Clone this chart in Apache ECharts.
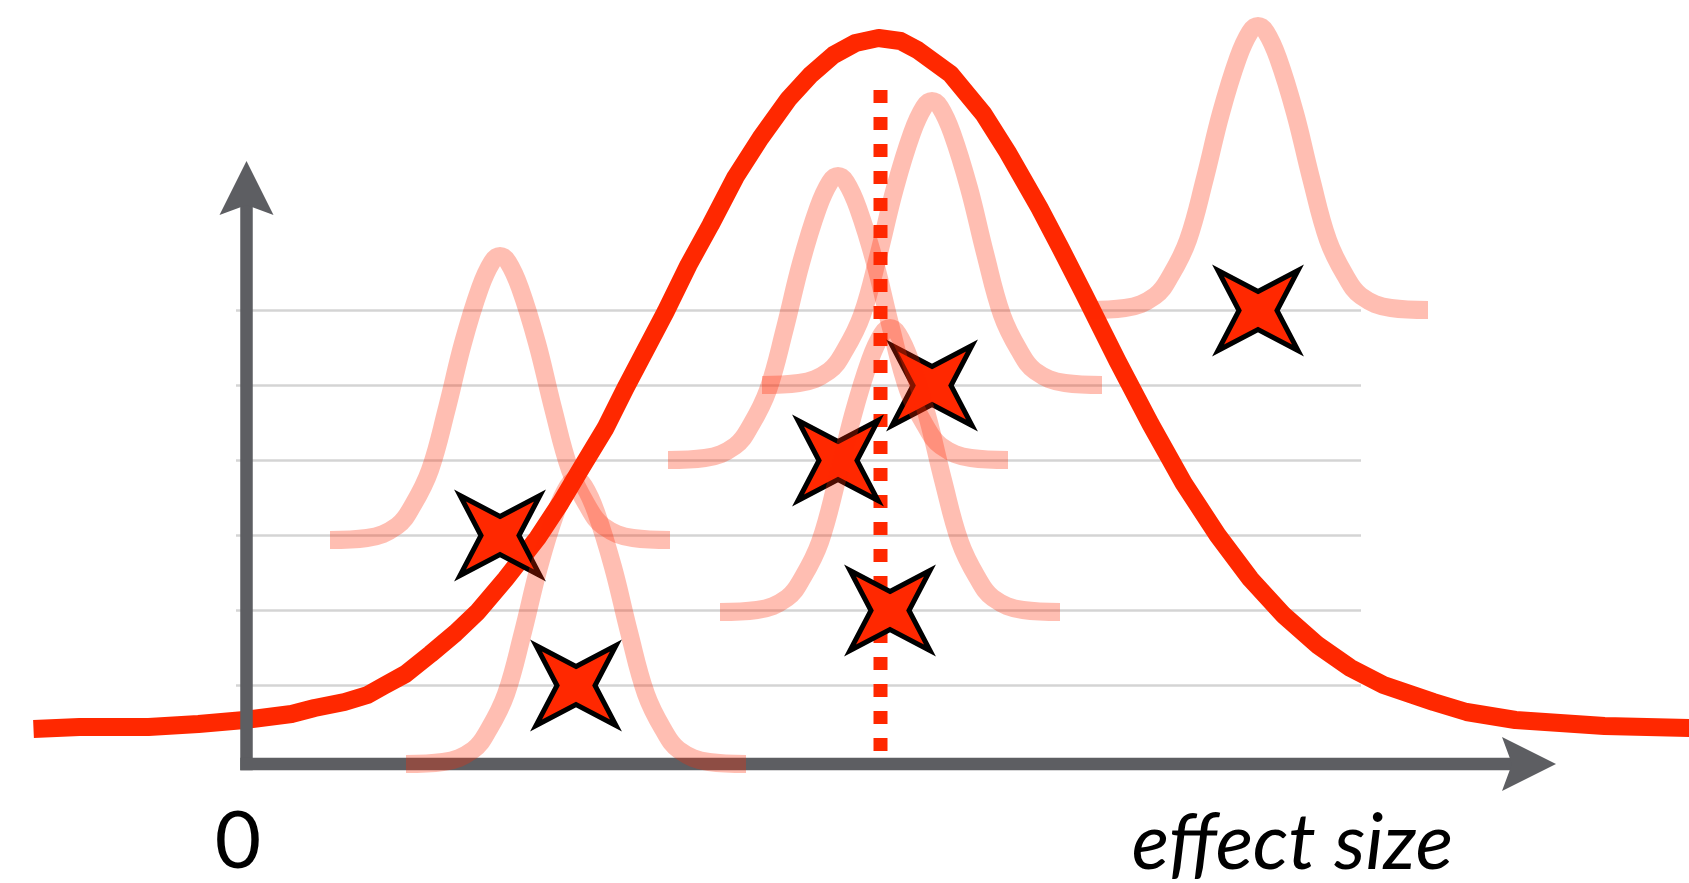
<!DOCTYPE html>
<html><head><meta charset="utf-8">
<script src="https://cdn.jsdelivr.net/npm/echarts@6/dist/echarts.min.js"></script>
<style>html,body{margin:0;padding:0;background:#fff;} #chart{width:1689px;height:883px;}</style>
</head><body><div id="chart"></div>
<script>
// ---- data (effect-size units on x, density units on y) ----
// pooled / overall distribution (big red curve)
const pooledX = [-2.13,-1.67,-0.98,-0.48,-0.02,0.45,0.68,0.98,1.21,1.37,1.59,1.84,2.09,2.31,2.59,2.91,3.14,3.36,3.59,3.79,3.99,4.19,4.42,4.64,4.89,5.14,5.42,5.64,5.87,6.09,6.32,6.54,6.71,7.04,7.37,7.61,7.93,8.14,8.37,8.71,9.04,9.37,9.71,10.04,10.37,10.71,11.04,11.37,11.87,12.2,12.69,13.58,14.43];
const pooledY = [0.35,0.37,0.37,0.40,0.44,0.50,0.56,0.62,0.69,0.78,0.90,1.10,1.31,1.52,1.85,2.26,2.61,2.98,3.36,3.76,4.14,4.52,4.99,5.39,5.87,6.26,6.65,6.89,7.09,7.21,7.26,7.23,7.14,6.90,6.50,6.12,5.56,5.16,4.71,4.03,3.40,2.81,2.29,1.85,1.49,1.19,0.96,0.79,0.62,0.52,0.44,0.38,0.36];
// shared shape of each study's curve (offset from its centre, height above its baseline)
const profileDx = [-1.70,-1.33,-1.03,-0.87,-0.70,-0.53,-0.37,-0.20,-0.08,0,0.08,0.20,0.37,0.53,0.70,0.87,1.03,1.33,1.70];
const profileH  = [0,0.02,0.14,0.35,0.70,1.32,1.97,2.52,2.78,2.84,2.78,2.52,1.97,1.32,0.70,0.35,0.14,0.02,0];
// studies
const studyCenter = [2.535, 3.295, 5.915, 6.435, 6.855, 10.115];
const studyBase   = [2.24, 0.0, 3.04, 1.52, 3.79, 4.54];
const studyStarY  = [2.285, 0.785, 3.035, 1.535, 3.785, 4.535];
// horizontal guide rows
const rowY = [0.785, 1.535, 2.285, 3.035, 3.785, 4.535];
const rowXRange = [-0.105, 11.145];
// mean effect (dotted line)
const meanEffect = 6.34;
const meanLineTop = 6.74;
// axes extents and labels
const xAxisEnd = 13.095;
const yAxisEnd = 6.03;
const zeroLabel = '0';
const xAxisTitle = 'effect size';

// ---- view ----
const W = 1689, H = 883, PX = 100;      // 100 px per unit
const originPx = [246.5, 764];
const RED = '#ff2800', AXIS = '#5d5e62';

const chart = echarts.init(document.getElementById('chart'), null, {renderer: 'canvas'});
const series = [];

rowY.forEach(y => series.push({
  type: 'line', z: 1, silent: true, symbol: 'none', clip: false,
  data: [[rowXRange[0], y], [rowXRange[1], y]],
  lineStyle: {color: '#d4d4d4', width: 2.5}
}));

series.push({
  type: 'line', z: 2, silent: true, symbol: 'none', clip: false, smooth: false,
  data: pooledX.map((x, i) => [x, pooledY[i]]),
  lineStyle: {color: RED, width: 18, join: 'round', cap: 'butt'}
});

series.push({
  type: 'custom', z: 3, silent: true, clip: false,
  data: [[0, 0]],
  renderItem: (params, api) => {
    const o = api.coord([0, 0]);
    const xe = api.coord([xAxisEnd, 0]);
    const ye = api.coord([0, yAxisEnd]);
    const w = 12.5, hw = w / 2, aLen = 54, aNotch = 44, aHalf = 27;
    return {type: 'group', children: [
      {type: 'rect', shape: {x: o[0] - hw, y: ye[1] + aNotch - 2, width: w, height: (o[1] + hw) - (ye[1] + aNotch - 2)}, style: {fill: AXIS}},
      {type: 'rect', shape: {x: o[0] - hw, y: o[1] - hw, width: (xe[0] - aNotch + 2) - (o[0] - hw), height: w}, style: {fill: AXIS}},
      {type: 'polygon', shape: {points: [[xe[0], xe[1]], [xe[0] - aLen, xe[1] - aHalf], [xe[0] - aNotch, xe[1]], [xe[0] - aLen, xe[1] + aHalf]]}, style: {fill: AXIS}},
      {type: 'polygon', shape: {points: [[ye[0], ye[1]], [ye[0] - aHalf, ye[1] + aLen], [ye[0], ye[1] + aNotch], [ye[0] + aHalf, ye[1] + aLen]]}, style: {fill: AXIS}}
    ]};
  }
});

series.push({
  type: 'line', z: 3, silent: true, symbol: 'none', clip: false,
  data: [[meanEffect, meanLineTop], [meanEffect, 0]],
  lineStyle: {color: RED, width: 14, type: [13, 14], cap: 'butt'}
});

series.push({
  type: 'scatter', z: 4, silent: true, clip: false,
  data: studyCenter.map((x, i) => [x, studyStarY[i]]),
  symbol: 'path://M0,-19L40,-40L19,0L40,40L0,19L-40,40L-19,0L-40,-40Z',
  symbolSize: 80,
  itemStyle: {color: RED, borderColor: '#000', borderWidth: 5, borderJoin: 'miter', borderMiterLimit: 20, opacity: 1}
});

studyCenter.forEach((c, i) => series.push({
  type: 'line', z: 5, silent: true, symbol: 'none', clip: false, smooth: 0.4,
  data: profileDx.map((dx, k) => [c + dx, studyBase[i] + profileH[k]]),
  lineStyle: {color: RED, width: 18, opacity: 0.3, cap: 'butt', join: 'round'}
}));

series.push({
  type: 'custom', z: 6, silent: true, clip: false,
  data: [[0, 0, 0], [xAxisEnd, 0, 1]],
  renderItem: (params, api) => {
    const p = api.coord([api.value(0), api.value(1)]);
    if (params.dataIndex === 0) {
      return {type: 'text', x: p[0] - 8.5, y: p[1] + 78,
        style: {text: zeroLabel, fontSize: 80, fontFamily: 'Lato', fill: '#000', align: 'center', verticalAlign: 'middle'}};
    }
    return {type: 'text', x: p[0] - 103, y: p[1] + 80,
      style: {text: xAxisTitle, fontSize: 78, fontStyle: 'italic', fontFamily: 'Lato', fill: '#000', align: 'right', verticalAlign: 'middle'}};
  }
});

chart.setOption({
  animation: false,
  backgroundColor: '#fff',
  grid: {left: 0, right: 0, top: 0, bottom: 0, containLabel: false},
  xAxis: {type: 'value', show: false, min: -originPx[0] / PX, max: (W - originPx[0]) / PX},
  yAxis: {type: 'value', show: false, min: -(H - originPx[1]) / PX, max: originPx[1] / PX},
  series: series
});
</script></body></html>
